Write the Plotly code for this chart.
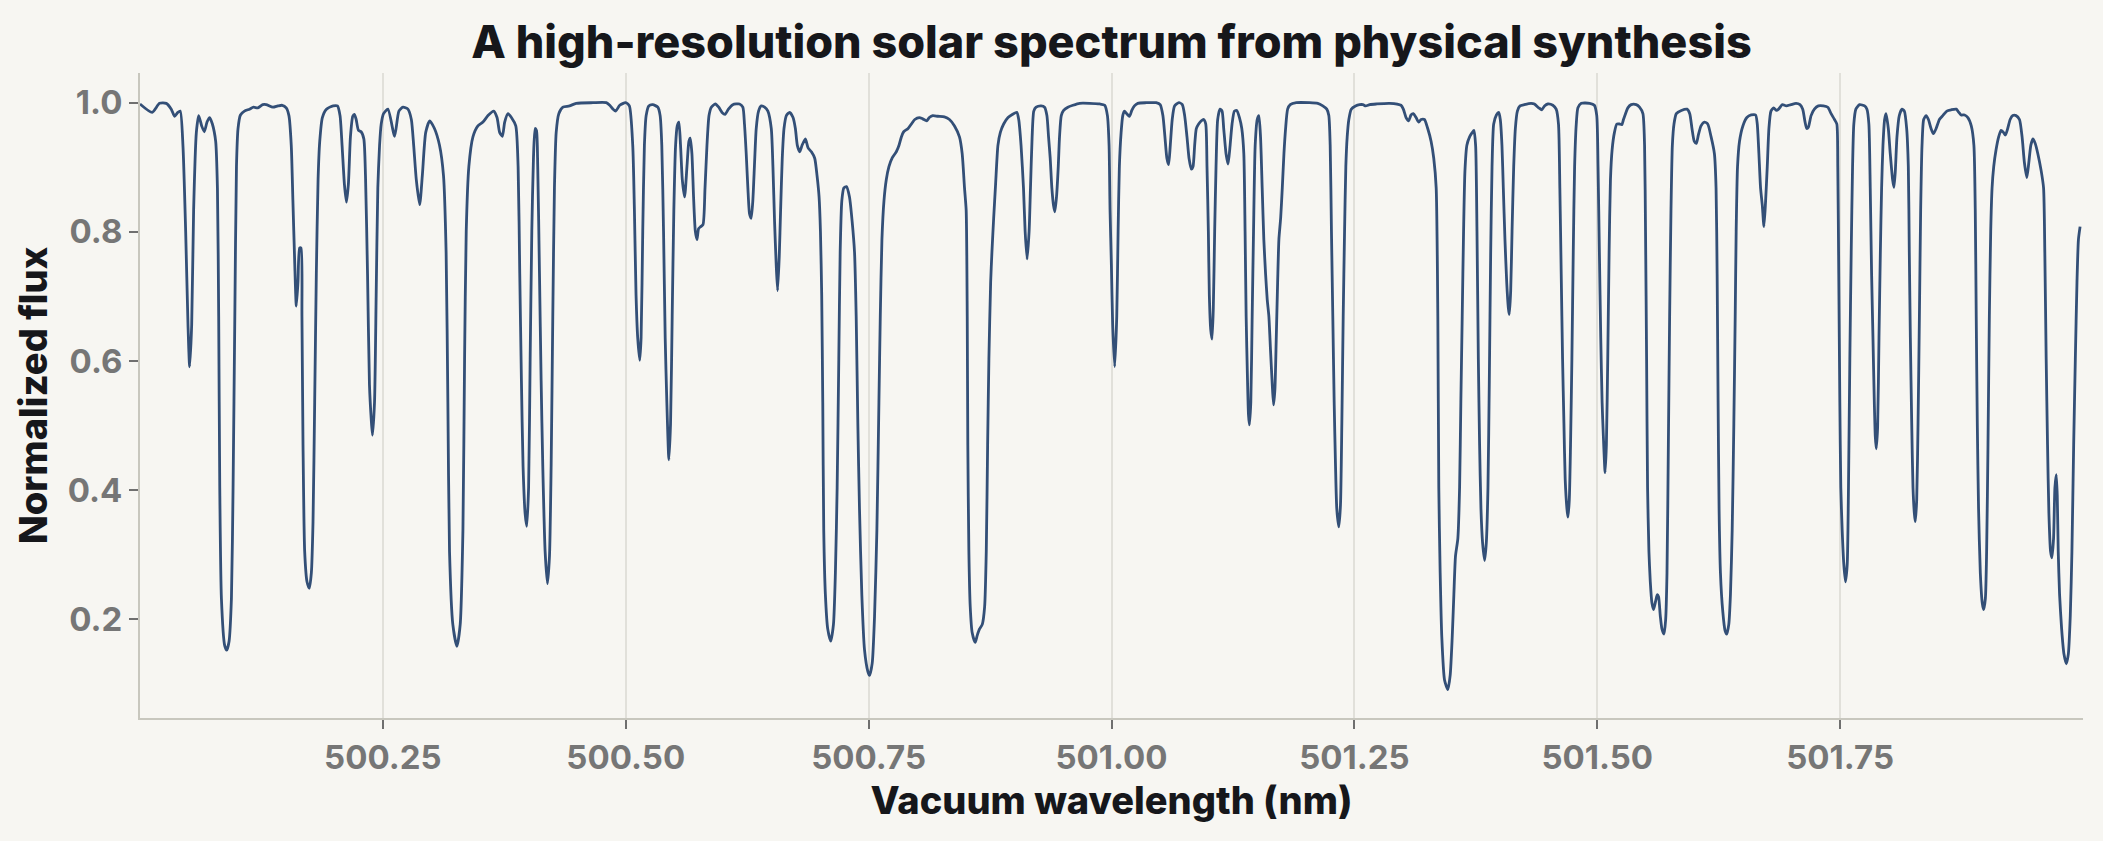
import plotly.graph_objects as go

# Vacuum wavelength (nm) and normalized flux
wavelength_nm = [
    500.0000, 500.0125, 500.0201, 500.0270, 500.0322, 500.0356, 500.0390, 500.0414, 500.0442, 500.0470,
    500.0494, 500.0511, 500.0532, 500.0552, 500.0580, 500.0604, 500.0635, 500.0662, 500.0690, 500.0717,
    500.0745, 500.0779, 500.0797, 500.0810, 500.0821, 500.0838, 500.0872, 500.0893, 500.0917, 500.0941,
    500.0958, 500.0976, 500.0993, 500.1009, 500.1034, 500.1075, 500.1127, 500.1168, 500.1213, 500.1264,
    500.1299, 500.1368, 500.1419, 500.1464, 500.1505, 500.1533, 500.1557, 500.1574, 500.1592, 500.1609,
    500.1626, 500.1643, 500.1657, 500.1667, 500.1678, 500.1695, 500.1719, 500.1743, 500.1764, 500.1781,
    500.1798, 500.1815, 500.1833, 500.1850, 500.1877, 500.1919, 500.1988, 500.2032, 500.2059, 500.2080,
    500.2104, 500.2125, 500.2145, 500.2166, 500.2190, 500.2207, 500.2225, 500.2249, 500.2276, 500.2304,
    500.2321, 500.2342, 500.2362, 500.2380, 500.2393, 500.2414, 500.2431, 500.2448, 500.2466, 500.2483,
    500.2507, 500.2552, 500.2621, 500.2665, 500.2707, 500.2758, 500.2793, 500.2817, 500.2844, 500.2879,
    500.2906, 500.2941, 500.2982, 500.3031, 500.3083, 500.3124, 500.3151, 500.3169, 500.3186, 500.3220,
    500.3262, 500.3296, 500.3324, 500.3341, 500.3358, 500.3385, 500.3427, 500.3478, 500.3530, 500.3582,
    500.3640, 500.3675, 500.3702, 500.3730, 500.3754, 500.3788, 500.3823, 500.3868, 500.3892, 500.3909,
    500.3926, 500.3943, 500.3964, 500.3981, 500.4000, 500.4016, 500.4033, 500.4050, 500.4067, 500.4081,
    500.4094, 500.4112, 500.4129, 500.4146, 500.4170, 500.4194, 500.4215, 500.4232, 500.4249, 500.4266,
    500.4284, 500.4311, 500.4353, 500.4421, 500.4490, 500.4662, 500.4800, 500.4835, 500.4869, 500.4897,
    500.4938, 500.4999, 500.5037, 500.5072, 500.5089, 500.5106, 500.5123, 500.5144, 500.5158, 500.5175,
    500.5192, 500.5210, 500.5237, 500.5278, 500.5330, 500.5354, 500.5371, 500.5389, 500.5406, 500.5423,
    500.5444, 500.5461, 500.5478, 500.5495, 500.5513, 500.5530, 500.5547, 500.5564, 500.5582, 500.5606,
    500.5630, 500.5650, 500.5664, 500.5681, 500.5698, 500.5716, 500.5733, 500.5750, 500.5771, 500.5795,
    500.5816, 500.5836, 500.5857, 500.5881, 500.5922, 500.5957, 500.5991, 500.6023, 500.6057, 500.6102,
    500.6171, 500.6205, 500.6222, 500.6240, 500.6257, 500.6274, 500.6291, 500.6308, 500.6326, 500.6343,
    500.6367, 500.6395, 500.6429, 500.6463, 500.6498, 500.6515, 500.6532, 500.6549, 500.6563, 500.6580,
    500.6594, 500.6611, 500.6629, 500.6653, 500.6687, 500.6722, 500.6746, 500.6766, 500.6791, 500.6815,
    500.6849, 500.6877, 500.6911, 500.6945, 500.6969, 500.6990, 500.7004, 500.7017, 500.7028, 500.7038,
    500.7055, 500.7079, 500.7110, 500.7138, 500.7158, 500.7176, 500.7193, 500.7207, 500.7224, 500.7245,
    500.7272, 500.7303, 500.7331, 500.7355, 500.7372, 500.7389, 500.7406, 500.7430, 500.7458, 500.7492,
    500.7510, 500.7537, 500.7561, 500.7585, 500.7606, 500.7620, 500.7637, 500.7658, 500.7682, 500.7709,
    500.7744, 500.7785, 500.7813, 500.7837, 500.7861, 500.7906, 500.7940, 500.7975, 500.8022, 500.8057,
    500.8098, 500.8125, 500.8160, 500.8212, 500.8280, 500.8332, 500.8384, 500.8435, 500.8463, 500.8487,
    500.8504, 500.8515, 500.8521, 500.8532, 500.8546, 500.8566, 500.8597, 500.8618, 500.8642, 500.8670,
    500.8694, 500.8711, 500.8725, 500.8738, 500.8756, 500.8769, 500.8787, 500.8807, 500.8831, 500.8856,
    500.8890, 500.8935, 500.8983, 500.9025, 500.9045, 500.9069, 500.9094, 500.9111, 500.9131, 500.9152,
    500.9166, 500.9183, 500.9200, 500.9224, 500.9276, 500.9311, 500.9335, 500.9352, 500.9369, 500.9386,
    500.9403, 500.9417, 500.9434, 500.9452, 500.9465, 500.9483, 500.9507, 500.9551, 500.9603, 500.9672,
    500.9775, 500.9879, 500.9930, 500.9958, 500.9975, 500.9985, 500.9999, 501.0012, 501.0033, 501.0054,
    501.0068, 501.0081, 501.0099, 501.0116, 501.0133, 501.0157, 501.0185, 501.0209, 501.0236, 501.0271,
    501.0357, 501.0460, 501.0501, 501.0529, 501.0550, 501.0570, 501.0588, 501.0605, 501.0625, 501.0649,
    501.0694, 501.0729, 501.0753, 501.0777, 501.0798, 501.0822, 501.0839, 501.0856, 501.0873, 501.0897,
    501.0925, 501.0949, 501.0970, 501.0983, 501.0997, 501.1007, 501.1021, 501.1035, 501.1048, 501.1062,
    501.1076, 501.1093, 501.1117, 501.1138, 501.1155, 501.1179, 501.1200, 501.1221, 501.1241, 501.1265,
    501.1289, 501.1317, 501.1341, 501.1362, 501.1375, 501.1386, 501.1400, 501.1410, 501.1420, 501.1434,
    501.1448, 501.1462, 501.1479, 501.1500, 501.1517, 501.1534, 501.1551, 501.1568, 501.1586, 501.1603,
    501.1620, 501.1637, 501.1655, 501.1668, 501.1682, 501.1696, 501.1710, 501.1723, 501.1741, 501.1758,
    501.1775, 501.1792, 501.1813, 501.1840, 501.1902, 501.2037, 501.2123, 501.2175, 501.2216, 501.2237,
    501.2251, 501.2264, 501.2278, 501.2292, 501.2306, 501.2319, 501.2340, 501.2357, 501.2371, 501.2385,
    501.2399, 501.2412, 501.2426, 501.2443, 501.2468, 501.2512, 501.2554, 501.2588, 501.2616, 501.2657,
    501.2726, 501.2864, 501.2980, 501.3004, 501.3032, 501.3059, 501.3083, 501.3107, 501.3135, 501.3163,
    501.3187, 501.3221, 501.3255, 501.3290, 501.3317, 501.3342, 501.3359, 501.3369, 501.3383, 501.3400,
    501.3428, 501.3462, 501.3486, 501.3507, 501.3524, 501.3541, 501.3565, 501.3583, 501.3596, 501.3610,
    501.3624, 501.3638, 501.3658, 501.3686, 501.3714, 501.3731, 501.3748, 501.3762, 501.3776, 501.3789,
    501.3803, 501.3820, 501.3841, 501.3858, 501.3875, 501.3889, 501.3903, 501.3917, 501.3934, 501.3962,
    501.3986, 501.4002, 501.4019, 501.4033, 501.4050, 501.4068, 501.4085, 501.4095, 501.4109, 501.4123,
    501.4140, 501.4157, 501.4178, 501.4205, 501.4250, 501.4319, 501.4353, 501.4398, 501.4429, 501.4457,
    501.4491, 501.4543, 501.4577, 501.4601, 501.4615, 501.4629, 501.4643, 501.4657, 501.4670, 501.4688,
    501.4698, 501.4712, 501.4725, 501.4739, 501.4753, 501.4767, 501.4784, 501.4801, 501.4836, 501.4922,
    501.4970, 501.4995, 501.5008, 501.5022, 501.5036, 501.5050, 501.5063, 501.5081, 501.5094, 501.5108,
    501.5122, 501.5136, 501.5153, 501.5177, 501.5201, 501.5229, 501.5253, 501.5270, 501.5291, 501.5315,
    501.5349, 501.5401, 501.5435, 501.5470, 501.5487, 501.5497, 501.5508, 501.5518, 501.5532, 501.5546,
    501.5563, 501.5580, 501.5601, 501.5618, 501.5631, 501.5649, 501.5666, 501.5687, 501.5704, 501.5718,
    501.5732, 501.5745, 501.5759, 501.5773, 501.5790, 501.5814, 501.5866, 501.5924, 501.5952, 501.5975,
    501.5999, 501.6020, 501.6041, 501.6068, 501.6103, 501.6137, 501.6172, 501.6206, 501.6223, 501.6234,
    501.6244, 501.6254, 501.6268, 501.6292, 501.6316, 501.6333, 501.6354, 501.6371, 501.6389, 501.6406,
    501.6420, 501.6430, 501.6444, 501.6464, 501.6499, 501.6540, 501.6585, 501.6630, 501.6647, 501.6664,
    501.6681, 501.6699, 501.6716, 501.6733, 501.6750, 501.6767, 501.6788, 501.6816, 501.6843, 501.6867,
    501.6905, 501.6946, 501.6994, 501.7046, 501.7087, 501.7115, 501.7139, 501.7156, 501.7173, 501.7201,
    501.7235, 501.7276, 501.7328, 501.7373, 501.7407, 501.7442, 501.7466, 501.7476, 501.7486, 501.7497,
    501.7507, 501.7521, 501.7538, 501.7555, 501.7573, 501.7586, 501.7600, 501.7614, 501.7628, 501.7641,
    501.7662, 501.7700, 501.7752, 501.7776, 501.7796, 501.7810, 501.7824, 501.7838, 501.7852, 501.7862,
    501.7872, 501.7886, 501.7900, 501.7914, 501.7927, 501.7941, 501.7958, 501.7972, 501.7996, 501.8016,
    501.8040, 501.8054, 501.8068, 501.8085, 501.8109, 501.8137, 501.8161, 501.8185, 501.8202, 501.8212,
    501.8223, 501.8237, 501.8250, 501.8264, 501.8274, 501.8288, 501.8302, 501.8316, 501.8329, 501.8343,
    501.8360, 501.8385, 501.8409, 501.8436, 501.8460, 501.8488, 501.8522, 501.8557, 501.8598, 501.8643,
    501.8695, 501.8722, 501.8746, 501.8781, 501.8815, 501.8850, 501.8877, 501.8891, 501.8901, 501.8912,
    501.8925, 501.8943, 501.8963, 501.8977, 501.8995, 501.9008, 501.9022, 501.9036, 501.9050, 501.9064,
    501.9081, 501.9105, 501.9132, 501.9157, 501.9181, 501.9201, 501.9225, 501.9250, 501.9277, 501.9311,
    501.9346, 501.9373, 501.9397, 501.9422, 501.9442, 501.9463, 501.9484, 501.9508, 501.9535, 501.9570,
    501.9594, 501.9607, 501.9621, 501.9635, 501.9649, 501.9666, 501.9680, 501.9697, 501.9711, 501.9725,
    501.9735, 501.9745, 501.9759, 501.9780, 501.9804, 501.9828, 501.9849, 501.9869, 501.9886, 501.9904,
    501.9921, 501.9938, 501.9953, 501.9970,
]

normalized_flux = [
    0.998, 0.985, 0.999, 0.999, 0.990, 0.979, 0.985, 0.987, 0.934, 0.801,
    0.656, 0.591, 0.656, 0.834, 0.954, 0.980, 0.964, 0.955, 0.970, 0.977,
    0.967, 0.940, 0.868, 0.669, 0.404, 0.232, 0.159, 0.152, 0.166, 0.232,
    0.404, 0.669, 0.901, 0.960, 0.981, 0.987, 0.990, 0.993, 0.992, 0.997,
    0.997, 0.993, 0.995, 0.996, 0.992, 0.980, 0.934, 0.848, 0.755, 0.685,
    0.722, 0.775, 0.775, 0.669, 0.470, 0.305, 0.258, 0.248, 0.272, 0.351,
    0.536, 0.735, 0.881, 0.940, 0.977, 0.990, 0.995, 0.995, 0.980, 0.934,
    0.874, 0.846, 0.874, 0.947, 0.979, 0.982, 0.974, 0.957, 0.955, 0.944,
    0.887, 0.735, 0.563, 0.510, 0.485, 0.536, 0.702, 0.868, 0.934, 0.967,
    0.983, 0.990, 0.948, 0.987, 0.993, 0.990, 0.974, 0.934, 0.881, 0.842,
    0.887, 0.954, 0.972, 0.960, 0.934, 0.887, 0.768, 0.536, 0.305, 0.192,
    0.158, 0.192, 0.338, 0.603, 0.801, 0.901, 0.947, 0.964, 0.970, 0.980,
    0.987, 0.977, 0.954, 0.948, 0.970, 0.983, 0.977, 0.964, 0.901, 0.735,
    0.570, 0.437, 0.364, 0.344, 0.404, 0.603, 0.801, 0.914, 0.960, 0.957,
    0.901, 0.735, 0.570, 0.437, 0.305, 0.255, 0.298, 0.437, 0.669, 0.868,
    0.954, 0.983, 0.993, 0.995, 0.999, 1.000, 1.000, 0.996, 0.990, 0.987,
    0.996, 1.000, 0.995, 0.934, 0.834, 0.702, 0.636, 0.601, 0.636, 0.801,
    0.934, 0.980, 0.995, 0.997, 0.993, 0.980, 0.934, 0.801, 0.636, 0.536,
    0.447, 0.503, 0.669, 0.834, 0.934, 0.964, 0.970, 0.934, 0.881, 0.854,
    0.901, 0.940, 0.945, 0.921, 0.854, 0.801, 0.788, 0.805, 0.808, 0.811,
    0.868, 0.934, 0.980, 0.993, 0.998, 0.993, 0.985, 0.982, 0.990, 0.997,
    0.998, 0.993, 0.967, 0.921, 0.868, 0.828, 0.821, 0.848, 0.907, 0.960,
    0.987, 0.995, 0.993, 0.987, 0.960, 0.901, 0.815, 0.748, 0.709, 0.762,
    0.834, 0.914, 0.960, 0.980, 0.985, 0.977, 0.960, 0.934, 0.924, 0.934,
    0.944, 0.930, 0.924, 0.914, 0.887, 0.854, 0.801, 0.702, 0.536, 0.338,
    0.238, 0.185, 0.166, 0.192, 0.272, 0.404, 0.603, 0.768, 0.848, 0.868,
    0.870, 0.854, 0.815, 0.768, 0.669, 0.503, 0.371, 0.238, 0.152, 0.119,
    0.113, 0.132, 0.205, 0.338, 0.536, 0.669, 0.788, 0.848, 0.881, 0.901,
    0.915, 0.924, 0.934, 0.947, 0.955, 0.960, 0.967, 0.974, 0.977, 0.975,
    0.972, 0.977, 0.980, 0.979, 0.978, 0.974, 0.964, 0.947, 0.921, 0.868,
    0.834, 0.669, 0.470, 0.305, 0.219, 0.179, 0.164, 0.175, 0.185, 0.192,
    0.219, 0.305, 0.470, 0.603, 0.722, 0.768, 0.821, 0.874, 0.934, 0.954,
    0.967, 0.977, 0.982, 0.985, 0.974, 0.934, 0.868, 0.801, 0.758, 0.801,
    0.868, 0.947, 0.987, 0.993, 0.995, 0.993, 0.980, 0.947, 0.914, 0.868,
    0.841, 0.831, 0.854, 0.901, 0.947, 0.980, 0.988, 0.993, 0.996, 0.999,
    0.999, 0.998, 0.996, 0.980, 0.934, 0.834, 0.748, 0.656, 0.591, 0.669,
    0.801, 0.901, 0.954, 0.980, 0.987, 0.983, 0.979, 0.988, 0.995, 0.999,
    1.000, 1.000, 0.997, 0.980, 0.947, 0.914, 0.904, 0.934, 0.974, 0.995,
    1.000, 0.997, 0.980, 0.947, 0.914, 0.897, 0.901, 0.934, 0.960, 0.967,
    0.972, 0.974, 0.967, 0.901, 0.801, 0.702, 0.649, 0.634, 0.682, 0.801,
    0.901, 0.974, 0.990, 0.987, 0.960, 0.921, 0.905, 0.934, 0.967, 0.987,
    0.988, 0.977, 0.960, 0.921, 0.801, 0.669, 0.570, 0.517, 0.501, 0.536,
    0.669, 0.801, 0.934, 0.974, 0.980, 0.947, 0.868, 0.788, 0.735, 0.695,
    0.669, 0.616, 0.563, 0.532, 0.556, 0.636, 0.722, 0.788, 0.821, 0.868,
    0.921, 0.960, 0.990, 0.997, 1.000, 1.000, 0.999, 0.995, 0.990, 0.980,
    0.934, 0.801, 0.669, 0.536, 0.437, 0.371, 0.343, 0.377, 0.503, 0.669,
    0.801, 0.901, 0.947, 0.974, 0.990, 0.995, 0.997, 0.997, 0.995, 0.997,
    0.998, 0.999, 0.996, 0.990, 0.977, 0.972, 0.981, 0.983, 0.977, 0.970,
    0.974, 0.974, 0.960, 0.940, 0.914, 0.868, 0.669, 0.404, 0.272, 0.172,
    0.106, 0.091, 0.113, 0.172, 0.238, 0.298, 0.325, 0.404, 0.536, 0.669,
    0.801, 0.894, 0.934, 0.947, 0.954, 0.957, 0.934, 0.801, 0.603, 0.470,
    0.371, 0.318, 0.291, 0.318, 0.404, 0.570, 0.768, 0.901, 0.967, 0.981,
    0.985, 0.974, 0.934, 0.868, 0.788, 0.722, 0.682, 0.672, 0.709, 0.801,
    0.901, 0.960, 0.987, 0.995, 0.997, 0.999, 0.998, 0.992, 0.989, 0.995,
    0.998, 0.996, 0.990, 0.967, 0.868, 0.735, 0.603, 0.503, 0.417, 0.371,
    0.358, 0.384, 0.470, 0.603, 0.768, 0.901, 0.967, 0.992, 0.999, 0.999,
    0.996, 0.980, 0.901, 0.768, 0.636, 0.536, 0.483, 0.427, 0.470, 0.603,
    0.768, 0.881, 0.927, 0.954, 0.967, 0.967, 0.966, 0.974, 0.983, 0.992,
    0.997, 0.997, 0.993, 0.983, 0.934, 0.801, 0.603, 0.404, 0.305, 0.258,
    0.225, 0.215, 0.228, 0.238, 0.235, 0.205, 0.185, 0.177, 0.199, 0.272,
    0.470, 0.669, 0.834, 0.934, 0.967, 0.983, 0.988, 0.990, 0.983, 0.960,
    0.940, 0.937, 0.950, 0.964, 0.970, 0.967, 0.947, 0.921, 0.868, 0.735,
    0.536, 0.371, 0.272, 0.212, 0.182, 0.177, 0.192, 0.238, 0.338, 0.503,
    0.669, 0.801, 0.901, 0.940, 0.964, 0.977, 0.981, 0.981, 0.967, 0.921,
    0.868, 0.841, 0.808, 0.848, 0.901, 0.960, 0.987, 0.992, 0.988, 0.990,
    0.997, 0.995, 0.997, 0.999, 0.997, 0.990, 0.970, 0.960, 0.962, 0.980,
    0.990, 0.995, 0.995, 0.993, 0.983, 0.974, 0.967, 0.901, 0.735, 0.536,
    0.404, 0.338, 0.285, 0.258, 0.285, 0.404, 0.603, 0.768, 0.901, 0.967,
    0.990, 0.997, 0.995, 0.990, 0.967, 0.868, 0.735, 0.636, 0.536, 0.483,
    0.464, 0.497, 0.636, 0.768, 0.868, 0.934, 0.974, 0.983, 0.960, 0.921,
    0.881, 0.869, 0.894, 0.947, 0.980, 0.990, 0.987, 0.960, 0.901, 0.768,
    0.636, 0.503, 0.404, 0.364, 0.351, 0.384, 0.503, 0.669, 0.834, 0.934,
    0.974, 0.980, 0.974, 0.960, 0.952, 0.960, 0.974, 0.980, 0.987, 0.989,
    0.990, 0.985, 0.981, 0.981, 0.977, 0.964, 0.934, 0.834, 0.669, 0.503,
    0.371, 0.272, 0.225, 0.215, 0.232, 0.305, 0.470, 0.669, 0.801, 0.868,
    0.901, 0.927, 0.947, 0.957, 0.954, 0.950, 0.960, 0.974, 0.980, 0.980,
    0.974, 0.947, 0.907, 0.884, 0.907, 0.934, 0.944, 0.937, 0.921, 0.894,
    0.868, 0.768, 0.603, 0.470, 0.364, 0.305, 0.295, 0.325, 0.404, 0.424,
    0.391, 0.305, 0.238, 0.185, 0.146, 0.131, 0.146, 0.205, 0.305, 0.470,
    0.603, 0.722, 0.788, 0.808,
]

x_tick_values = [500.25, 500.50, 500.75, 501.00, 501.25, 501.50, 501.75]
x_tick_labels = ["500.25", "500.50", "500.75", "501.00", "501.25", "501.50", "501.75"]
y_tick_values = [0.2, 0.4, 0.6, 0.8, 1.0]
y_tick_labels = ["0.2", "0.4", "0.6", "0.8", "1.0"]

BG = "#f7f6f2"
LINE = "#334f77"
FONT = "Inter"

fig = go.Figure(
    go.Scatter(
        x=wavelength_nm,
        y=normalized_flux,
        mode="lines",
        line=dict(color=LINE, width=2.8, shape="spline", smoothing=0.6),
        hoverinfo="x+y",
        showlegend=False,
    )
)

fig.update_layout(
    width=2103,
    height=841,
    paper_bgcolor=BG,
    plot_bgcolor=BG,
    margin=dict(l=140, r=20, t=73, b=123),
    font=dict(family=FONT, color="#1b1c20"),
    title=dict(
        text="A high-resolution solar spectrum from physical synthesis",
        x=0.5,
        xref="paper",
        xanchor="center",
        y=1 - 42 / 841,
        yref="container",
        yanchor="middle",
        font=dict(family=FONT, size=45, weight=800, color="#16171b"),
    ),
)

fig.update_xaxes(
    range=[500.0, 502.0],
    tickvals=x_tick_values,
    ticktext=x_tick_labels,
    showgrid=True,
    gridcolor="#e1e0da",
    gridwidth=1.5,
    zeroline=False,
    showline=True,
    linecolor="#c8c7be",
    linewidth=2,
    ticks="outside",
    ticklen=9,
    tickwidth=2,
    tickcolor="#6f6f6f",
    tickfont=dict(family=FONT, size=33, weight=700, color="#767676"),
    title=dict(
        text="Vacuum wavelength (nm)",
        font=dict(family=FONT, size=38, weight=800, color="#16171b"),
        standoff=9,
    ),
)

fig.update_yaxes(
    range=[0.047, 1.046],
    tickvals=y_tick_values,
    ticktext=y_tick_labels,
    showgrid=False,
    zeroline=False,
    showline=True,
    linecolor="#c8c7be",
    linewidth=2,
    ticks="outside",
    ticklen=9,
    tickwidth=2,
    tickcolor="#6f6f6f",
    tickfont=dict(family=FONT, size=33, weight=700, color="#767676"),
    title=dict(
        text="Normalized flux",
        font=dict(family=FONT, size=38, weight=800, color="#16171b"),
        standoff=8,
    ),
)

fig.write_html("out.html")
